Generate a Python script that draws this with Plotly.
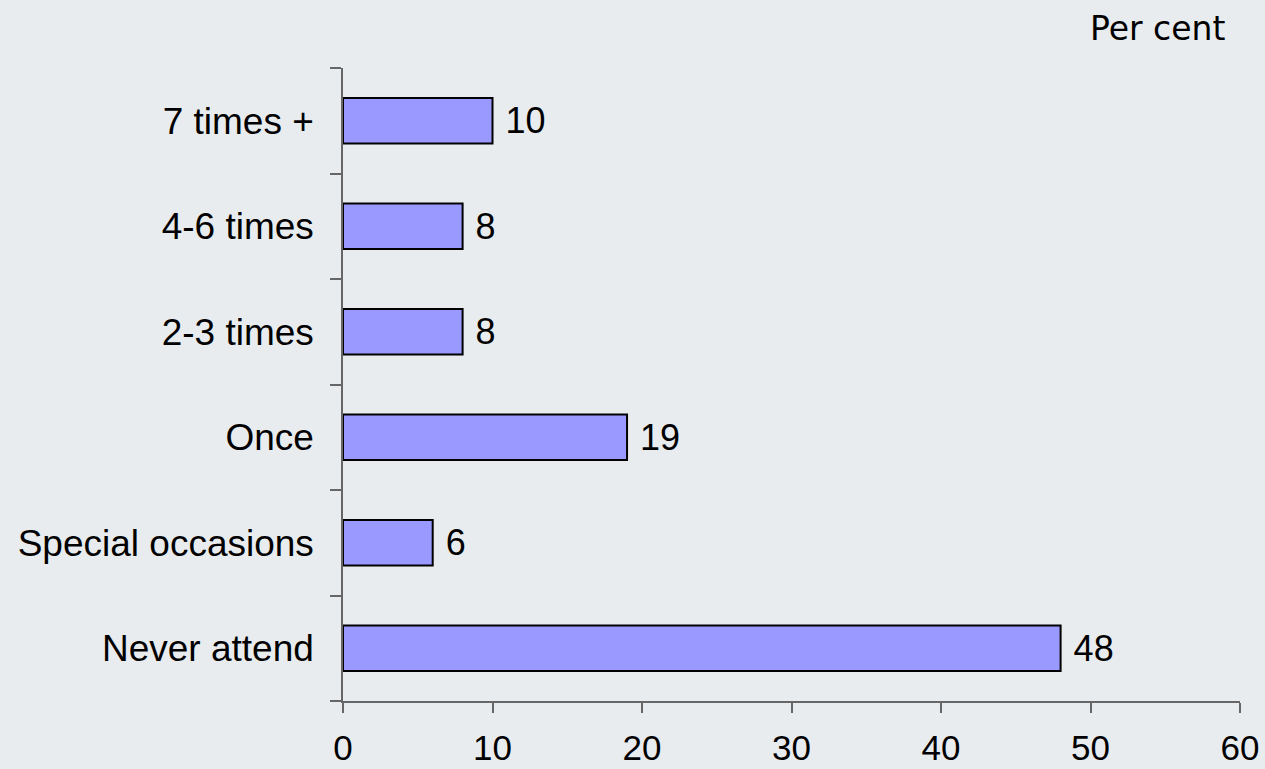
import plotly.graph_objects as go

categories = ["Never attend", "Special occasions", "Once", "2-3 times", "4-6 times", "7 times +"]
values = [48, 6, 19, 8, 8, 10]
x_ticks = [0, 10, 20, 30, 40, 50, 60]

bg = "#E9ECEE"
fig = go.Figure(go.Bar(
    y=categories, x=values, orientation="h",
    marker=dict(color="#9999FF", line=dict(color="black", width=2)),
    text=[" " + str(v) for v in values], textposition="outside",
    textfont=dict(family="Liberation Sans, Arial", size=36, color="black"),
    cliponaxis=False,
))
fig.update_layout(
    width=1265, height=769,
    paper_bgcolor=bg, plot_bgcolor=bg,
    margin=dict(l=343, r=25, t=68, b=68, autoexpand=False),
    bargap=0.57,
    showlegend=False,
    font=dict(family="Liberation Sans, Arial", size=37, color="black"),
    annotations=[dict(text="Per cent", xref="paper", yref="paper", x=1.0, y=1.0,
                      xanchor="right", yanchor="bottom", yshift=18, xshift=-13, showarrow=False,
                      font=dict(family="DejaVu Sans, Verdana", size=33, color="black"))],
)
fig.update_xaxes(range=[0, 60], tickvals=x_ticks, showgrid=False, zeroline=False,
                 showline=True, linecolor="#666666", linewidth=1.5, automargin=False,
                 ticks="outside", ticklen=10, tickcolor="#666666", tickwidth=1.5,
                 ticklabelstandoff=5, tickfont=dict(size=35))
fig.update_yaxes(categoryorder="array", categoryarray=categories, showgrid=False,
                 showline=True, linecolor="#666666", linewidth=1.5, automargin=False,
                 ticks="outside", ticklen=11, tickcolor="#666666", tickwidth=1.5,
                 tickson="boundaries", ticklabelstandoff=20, tickfont=dict(size=37))
fig.write_html("out.html", config={"displayModeBar": False},
               post_script="document.body.style.margin='0';document.body.style.background='%s';" % bg)
